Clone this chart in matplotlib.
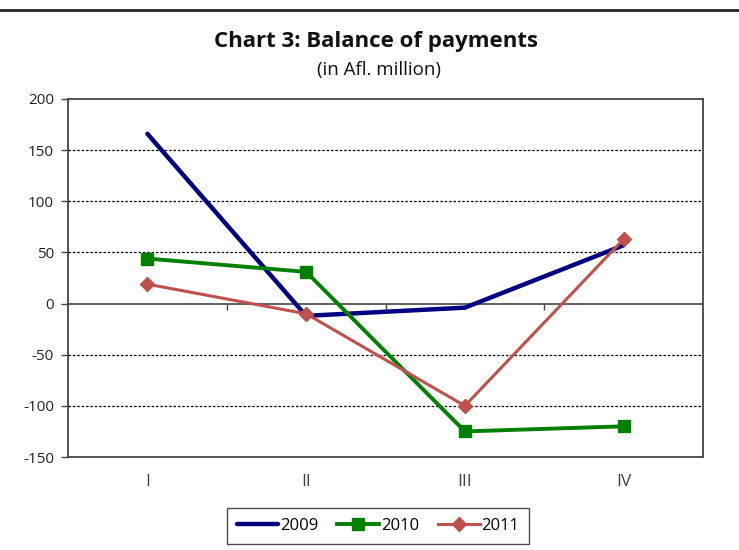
import matplotlib
matplotlib.use("Agg")
import matplotlib.pyplot as plt
from matplotlib.lines import Line2D

quarters = ["I", "II", "III", "IV"]
y2009 = [166, -12, -4, 57]
y2010 = [44, 31, -125, -120]
y2011 = [19, -10, -100, 63]
yticks = [-150, -100, -50, 0, 50, 100, 150, 200]

plt.rcParams['font.family'] = ['Open Sans', 'DejaVu Sans']

fig = plt.figure(figsize=(7.39, 5.5), dpi=100)
ax = fig.add_axes([68/739, 1-457/550, 635/739, 358/550])

x = list(range(len(quarters)))
ax.plot(x, y2009, color="#000080", lw=3.2, solid_capstyle="round", label="2009", zorder=3)
ax.plot(x, y2010, color="#008000", lw=2.8, marker="s", ms=8, label="2010", zorder=3)
ax.plot(x, y2011, color="#C0504D", lw=2.2, marker="D", ms=7, label="2011", zorder=4)

ymin, ymax = yticks[0], yticks[-1]
ax.set_ylim(ymin, ymax)
ax.set_xlim(-0.5, len(quarters) - 0.5)
ax.set_yticks(yticks)
ax.set_yticklabels([str(v) for v in yticks], fontsize=11, color="#222222")
ax.set_xticks(x)
ax.set_xticklabels(quarters, fontsize=12.5, color="#444444")
ax.tick_params(axis="x", length=0, pad=12)
ax.tick_params(axis="y", length=5, width=1, color="#444444", pad=5)

for v in yticks:
    if v not in (0, ymin, ymax):
        ax.axhline(v, color="black", lw=0.9, ls=(0, (2, 1.5)), zorder=1)
ax.axhline(0, color="#444444", lw=1.2, zorder=2)

for s in ax.spines.values():
    s.set_color("#444444")
    s.set_linewidth(1.3)

sec = ax.secondary_xaxis((0 - ymin) / (ymax - ymin))
sec.set_xticks([i + 0.5 for i in x[:-1]])
sec.set_xticklabels([])
sec.tick_params(axis="x", direction="out", length=4, width=1, color="#444444")
sec.spines["bottom"].set_visible(False)

fig.text(376/739, 1-42/550, "Chart 3: Balance of payments", ha="center", va="center",
         fontsize=16, fontweight="bold", color="#111111")
fig.text(379/739, 1-70/550, "(in Afl. million)", ha="center", va="center",
         fontsize=13.5, color="#111111")

fig.add_artist(Line2D([0, 1], [1-10/550, 1-10/550], color="#222222", lw=2,
                      transform=fig.transFigure))

leg = fig.legend(loc="center", bbox_to_anchor=(378/739, 1-526/550), ncol=3,
                 frameon=True, fancybox=False, edgecolor="#222222", fontsize=12,
                 handlelength=2.5, handletextpad=0.1, columnspacing=1.15,
                 borderpad=0.6)
leg.get_frame().set_linewidth(1.0)

fig.savefig("out.png", dpi=100)
